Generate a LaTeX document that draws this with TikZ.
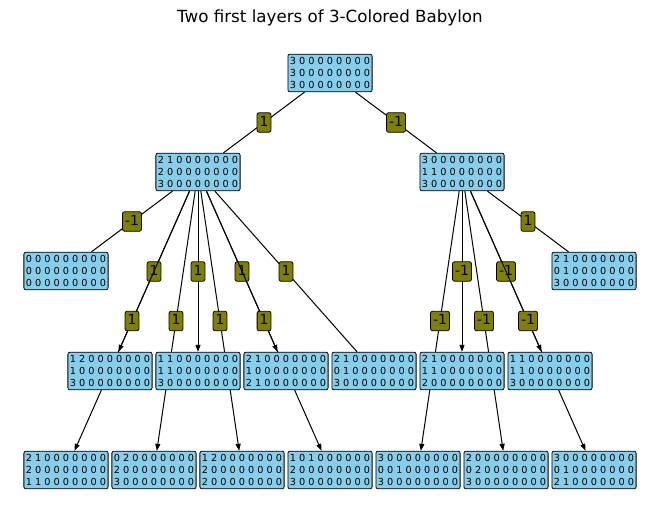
\documentclass[tikz,border=0pt]{standalone}
\usepackage{fontspec}
\setmainfont{DejaVu Sans}
\usetikzlibrary{arrows.meta,backgrounds}
\definecolor{skyblue}{RGB}{135,206,235}
\definecolor{olivebox}{RGB}{128,128,0}
\tikzset{
  board/.style={draw=black, fill=skyblue, rounded corners=2pt, line width=0.8pt,
    inner xsep=2pt, inner ysep=3.5pt, align=center, font=\fontsize{9.7}{11.6}\selectfont},
  weight/.style={draw=black, fill=olivebox, rounded corners=2pt, line width=0.8pt,
    inner xsep=2.5pt, inner ysep=3pt, text height=10.5pt, text depth=3pt,
    font=\fontsize{13.9}{14}\selectfont},
  edge/.style={black, line width=1pt},
  arc/.style={edge, -{Triangle[length=7pt,width=5pt]}}
}

\begin{document}
\begin{tikzpicture}[x=1pt,y=-1pt]
  \useasboundingbox (0,0) rectangle (660,522);
  \node[font=\fontsize{16.7}{20}\selectfont] (title) at (330,18) {Two first layers of 3-Colored Babylon};

  % root and first layer
  \node[board] (root) at (330,73) {3 0 0 0 0 0 0 0 0\\3 0 0 0 0 0 0 0 0\\3 0 0 0 0 0 0 0 0};
  \node[board] (a) at (198,172) {2 1 0 0 0 0 0 0 0\\2 0 0 0 0 0 0 0 0\\3 0 0 0 0 0 0 0 0};
  \node[board] (b) at (462,172) {3 0 0 0 0 0 0 0 0\\1 1 0 0 0 0 0 0 0\\3 0 0 0 0 0 0 0 0};

  % second layer
  \node[board] (c) at (66,271) {0 0 0 0 0 0 0 0 0\\0 0 0 0 0 0 0 0 0\\0 0 0 0 0 0 0 0 0};
  \node[board] (d) at (594,271) {2 1 0 0 0 0 0 0 0\\0 1 0 0 0 0 0 0 0\\3 0 0 0 0 0 0 0 0};
  \node[board] (e) at (110,371) {1 2 0 0 0 0 0 0 0\\1 0 0 0 0 0 0 0 0\\3 0 0 0 0 0 0 0 0};
  \node[board] (f) at (198,371) {1 1 0 0 0 0 0 0 0\\1 1 0 0 0 0 0 0 0\\3 0 0 0 0 0 0 0 0};
  \node[board] (g) at (286,371) {2 1 0 0 0 0 0 0 0\\1 0 0 0 0 0 0 0 0\\2 1 0 0 0 0 0 0 0};
  \node[board] (h) at (374,371) {2 1 0 0 0 0 0 0 0\\0 1 0 0 0 0 0 0 0\\3 0 0 0 0 0 0 0 0};
  \node[board] (i) at (462,371) {2 1 0 0 0 0 0 0 0\\1 1 0 0 0 0 0 0 0\\2 0 0 0 0 0 0 0 0};
  \node[board] (j) at (550,371) {1 1 0 0 0 0 0 0 0\\1 1 0 0 0 0 0 0 0\\3 0 0 0 0 0 0 0 0};

  % bottom row
  \node[board] (k) at (66,470) {2 1 0 0 0 0 0 0 0\\2 0 0 0 0 0 0 0 0\\1 1 0 0 0 0 0 0 0};
  \node[board] (l) at (154,470) {0 2 0 0 0 0 0 0 0\\2 0 0 0 0 0 0 0 0\\3 0 0 0 0 0 0 0 0};
  \node[board] (m) at (242,470) {1 2 0 0 0 0 0 0 0\\2 0 0 0 0 0 0 0 0\\2 0 0 0 0 0 0 0 0};
  \node[board] (n) at (330,470) {1 0 1 0 0 0 0 0 0\\2 0 0 0 0 0 0 0 0\\3 0 0 0 0 0 0 0 0};
  \node[board] (o) at (418,470) {3 0 0 0 0 0 0 0 0\\0 0 1 0 0 0 0 0 0\\3 0 0 0 0 0 0 0 0};
  \node[board] (p) at (506,470) {2 0 0 0 0 0 0 0 0\\0 2 0 0 0 0 0 0 0\\3 0 0 0 0 0 0 0 0};
  \node[board] (q) at (594,470) {3 0 0 0 0 0 0 0 0\\0 1 0 0 0 0 0 0 0\\2 1 0 0 0 0 0 0 0};

  \begin{scope}[on background layer]
    \draw[edge] (root) -- node[weight] (w1) {1} (a);
    \draw[edge] (root) -- node[weight] (w2) {-1} (b);
    % left branch
    \draw[edge] (a) -- node[weight] (w3) {-1} (c);
    \draw[arc] (a) -- node[weight] (w4) {1} (e);
    \draw[arc] (a) -- node[weight] (w5) {1} (f);
    \draw[arc] (a) -- node[weight] (w6) {1} (g);
    \draw[edge] (a) -- node[weight] (w7) {1} (h);
    \draw[arc] (a) -- node[weight] (w8) {1} (k);
    \draw[arc] (a) -- node[weight] (w9) {1} (l);
    \draw[arc] (a) -- node[weight] (w10) {1} (m);
    \draw[arc] (a) -- node[weight] (w11) {1} (n);
    % right branch
    \draw[edge] (b) -- node[weight] (w12) {1} (d);
    \draw[arc] (b) -- node[weight] (w13) {-1} (i);
    \draw[arc] (b) -- node[weight] (w14) {-1} (j);
    \draw[arc] (b) -- node[weight] (w15) {-1} (o);
    \draw[arc] (b) -- node[weight] (w16) {-1} (p);
    \draw[arc] (b) -- node[weight] (w17) {-1} (q);
  \end{scope}
\end{tikzpicture}
\end{document}
